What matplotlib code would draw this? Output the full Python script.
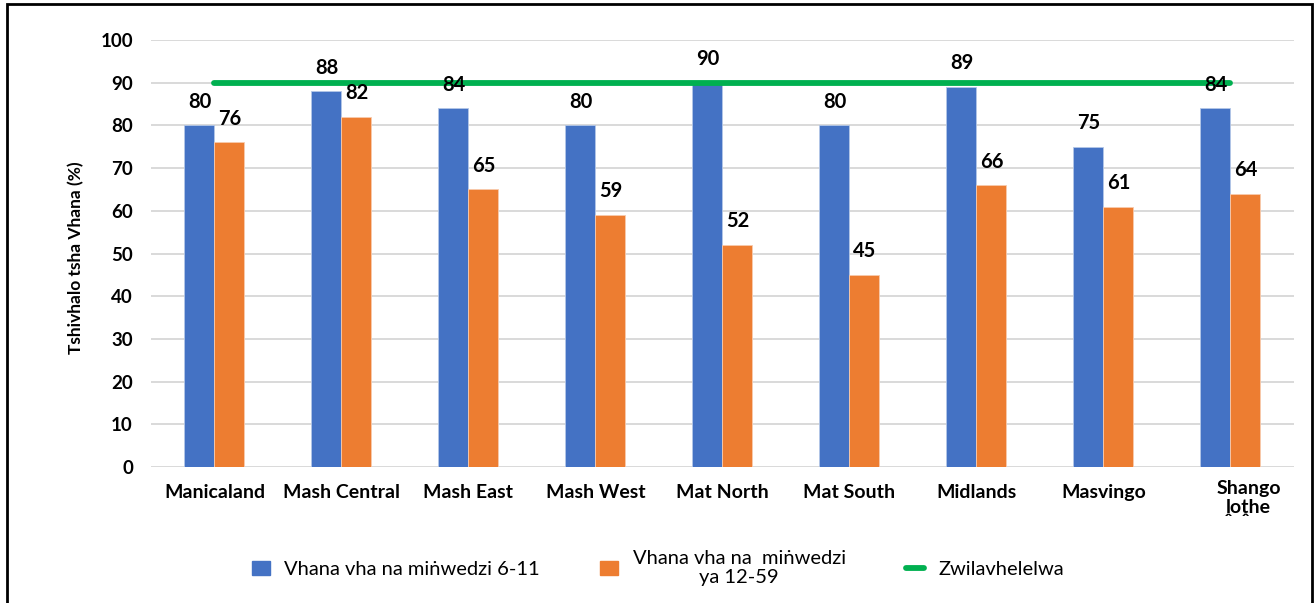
import matplotlib.pyplot as plt
import numpy as np
from matplotlib.patches import Patch, Rectangle
from matplotlib.lines import Line2D
from matplotlib.transforms import ScaledTranslation

plt.rcParams['font.family'] = ['Lato', 'DejaVu Sans']

# data
provinces = ['Manicaland', 'Mash Central', 'Mash East', 'Mash West', 'Mat North',
             'Mat South', 'Midlands', 'Masvingo', 'Shango\nḽoṱhe']
age_6_11 = [80, 88, 84, 80, 90, 80, 89, 75, 84]
age_12_59 = [76, 82, 65, 59, 52, 45, 66, 61, 64]
target = 90

series_names = ['Vhana vha na miṅwedzi 6-11', 'Vhana vha na  miṅwedzi\nya 12-59', 'Zwilavhelelwa']
y_title = 'Tshivhalo tsha Vhana (%)'

blue = '#4472c4'
orange = '#ed7d31'
green = '#00b050'

fig = plt.figure(figsize=(13.16, 6.03), dpi=100)
ax = fig.add_axes([0.1147, 0.2255, 0.8685, 0.7082])

x = np.arange(len(provinces))
w = 0.236
b1 = ax.bar(x - w / 2, age_6_11, w, color=blue, edgecolor='#b4c7e7', linewidth=0.6, zorder=2)
b2 = ax.bar(x + w / 2, age_12_59, w, color=orange, edgecolor='#f8cbad', linewidth=0.6, zorder=2)

# target line from first to last province
ax.plot([x[0], x[-1]], [target, target], color=green, lw=4.2, solid_capstyle='round', zorder=3)

for bars, vals in [(b1, age_6_11), (b2, age_12_59)]:
    for r, v in zip(bars, vals):
        ax.annotate(f'{v}', (r.get_x() + r.get_width() / 2, v), xytext=(0, 17),
                    textcoords='offset points', ha='center', va='center',
                    fontsize=14.5, fontweight='bold', zorder=4)

ax.set_xlim(-0.5, len(provinces) - 0.5)
ax.set_ylim(0, 100)
ax.set_yticks(np.arange(0, 101, 10))
ax.yaxis.grid(True, color='#d9d9d9', lw=1.4, zorder=0)
ax.set_axisbelow(True)
for s in ax.spines.values():
    s.set_visible(False)
ax.tick_params(axis='both', length=0)
ax.tick_params(axis='y', pad=13, labelsize=13.5)
ax.tick_params(axis='x', pad=12, labelsize=14)
ax.set_xticks(x)
ax.set_xticklabels(provinces, fontweight='bold')
for lbl in ax.get_yticklabels():
    lbl.set_fontweight('bold')
last = ax.get_xticklabels()[-1]
last.set_transform(last.get_transform() + ScaledTranslation(13 / 72, 3 / 72, fig.dpi_scale_trans))

ax.set_ylabel(y_title, fontsize=12.5, fontweight='bold')
ax.yaxis.set_label_coords(-0.058, 0.49)

handles = [Patch(color=blue), Patch(color=orange),
           Line2D([0], [0], color=green, lw=4.2, solid_capstyle='round')]
leg = fig.legend(handles, series_names, loc='center', bbox_to_anchor=(0.5, 0.058), ncol=3,
                 frameon=False, fontsize=14.5, handlelength=0.9, handleheight=0.75,
                 columnspacing=3.0, handletextpad=0.7)
leg.get_texts()[1].set_multialignment('center')

# outer frame
fig.patches.append(Rectangle((0.0053, -0.02), 0.9917, 1.013, transform=fig.transFigure,
                             fill=False, edgecolor='black', lw=2))

plt.savefig('out.png', dpi=100)
